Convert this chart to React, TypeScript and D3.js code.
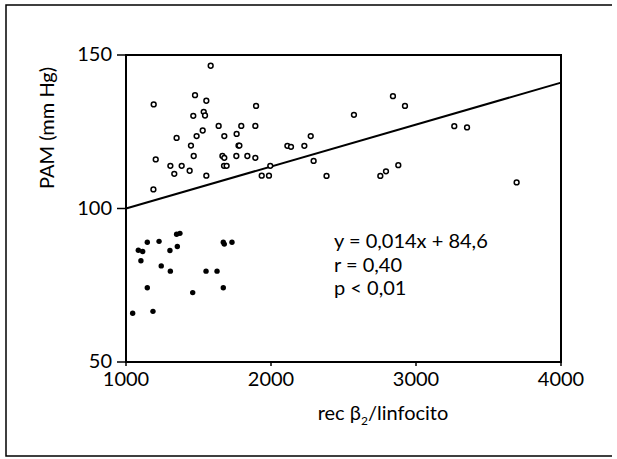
import React from "react";
import * as d3 from "d3";

// Open circles (x: rec β2/linfocito, y: PAM mm Hg)
const openX = [1584,1191,1476,1554,1897,1536,1545,1464,1639,1795,1892,1529,1487,1349,1678,1763,1448,1776,1782,2113,2138,1205,1467,1665,1678,1761,1837,1892,1306,1384,1676,1694,1333,1439,1554,1995,1936,1986,1189,2274,2230,2294,2383,2572,2841,2924,2754,2793,2878,3264,3352,3694];
const openY = [146.5,133.9,136.9,135.1,133.4,131.5,130.3,130.2,126.9,126.9,126.9,125.4,123.6,123.0,123.6,124.3,120.5,120.5,120.5,120.4,120.1,116.0,117.1,117.1,116.5,117.1,117.1,116.5,113.9,113.9,113.9,113.9,111.3,112.3,110.7,113.9,110.7,110.7,106.2,123.6,120.4,115.5,110.6,130.5,136.6,133.4,110.6,112.1,114.1,126.8,126.4,108.5];

// Filled dots
const filledX = [1046,1186,1147,1460,1671,1085,1115,1103,1147,1228,1303,1354,1349,1372,1243,1306,1552,1628,1671,1678,1731];
const filledY = [65.9,66.5,74.2,72.6,74.2,86.4,86.0,83.0,89.0,89.3,86.3,87.6,91.6,91.9,81.3,79.6,79.6,79.6,89.0,88.4,89.0];

// Regression line endpoints
const lineX = [1000, 4000];
const lineY = [100, 141];

const xTicks = [1000, 2000, 3000, 4000];
const yTicks = [50, 100, 150];
const annotation = ["y = 0,014x + 84,6", "r = 0,40", "p < 0,01"];

const FONT = "Lato, 'Liberation Sans', sans-serif";

export default function App() {
  const x = d3.scaleLinear().domain([1000, 4000]).range([126, 561]);
  const y = d3.scaleLinear().domain([50, 150]).range([362, 55]);
  const line = d3.line<number>().x((_, i) => x(lineX[i])).y((_, i) => y(lineY[i]));

  return (
    <svg width={617} height={459} style={{ position: "absolute", left: 0, top: 0, background: "#fff" }}>
      <rect x={0} y={0} width={617} height={459} fill="#fff" />
      {/* outer frame */}
      <path d="M612,5 H6 V456 H612" fill="none" stroke="#000" strokeWidth={1.5} />
      {/* plot box */}
      <rect x={x(1000)} y={y(150)} width={x(4000) - x(1000)} height={y(50) - y(150)} fill="none" stroke="#000" strokeWidth={2} />
      {/* y ticks */}
      {yTicks.map((t) => (
        <g key={"y" + t}>
          <line x1={x(1000) - 9} x2={x(1000)} y1={y(t)} y2={y(t)} stroke="#000" strokeWidth={1.5} />
          <text x={x(1000) - 14} y={y(t) + 6} textAnchor="end" fontFamily={FONT} fontSize={20}>{t}</text>
        </g>
      ))}
      {/* x ticks */}
      {xTicks.map((t) => (
        <g key={"x" + t}>
          <line x1={x(t)} x2={x(t)} y1={y(50)} y2={y(50) + 4} stroke="#000" strokeWidth={1.5} />
          <text x={x(t)} y={y(50) + 24} textAnchor="middle" fontFamily={FONT} fontSize={20}>{t}</text>
        </g>
      ))}
      {/* regression line */}
      <path d={line(lineX) || ""} fill="none" stroke="#000" strokeWidth={2} />
      {/* points */}
      {openX.map((v, i) => (
        <circle key={"o" + i} cx={x(v)} cy={y(openY[i])} r={2.4} fill="#fff" stroke="#000" strokeWidth={1.5} />
      ))}
      {filledX.map((v, i) => (
        <circle key={"f" + i} cx={x(v)} cy={y(filledY[i])} r={2.7} fill="#000" />
      ))}
      {/* annotation */}
      {annotation.map((s, i) => (
        <text key={"a" + i} x={334} y={248 + i * 23.5} fontFamily={FONT} fontSize={20}>{s}</text>
      ))}
      {/* axis titles */}
      <text transform={`translate(54,128) rotate(-90)`} textAnchor="middle" fontFamily={FONT} fontSize={20}>PAM (mm Hg)</text>
      <text x={383} y={420} textAnchor="middle" fontFamily={FONT} fontSize={20}>
        rec β<tspan fontSize={12} dy={5}>2</tspan><tspan dy={-5}>/linfocito</tspan>
      </text>
    </svg>
  );
}
